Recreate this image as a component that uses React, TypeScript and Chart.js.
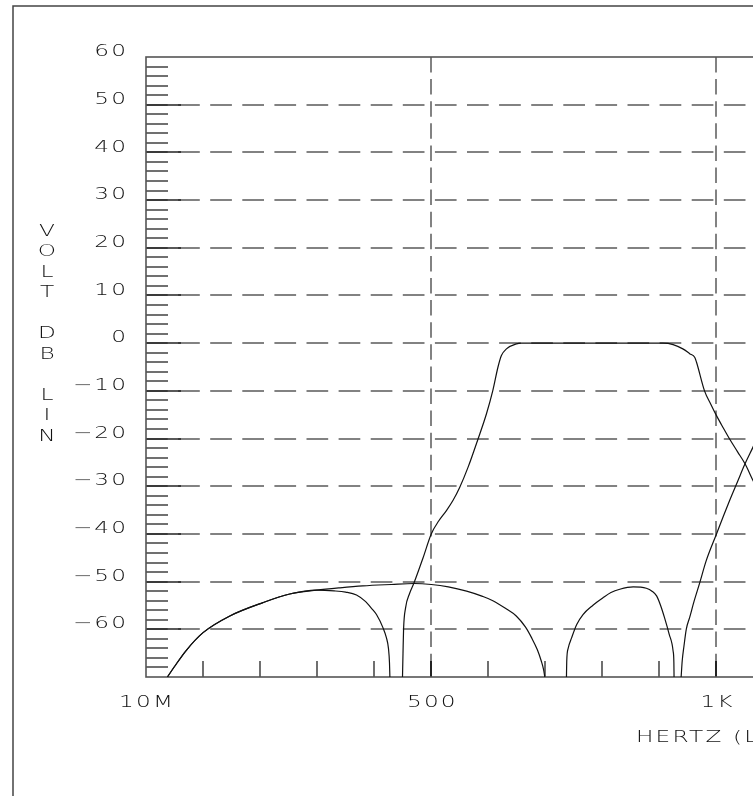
import React, { useEffect, useRef } from 'react';
import { Chart, registerables } from 'chart.js';

Chart.register(...registerables);

// ---------- data ----------
const xTickValues = [0.01, 500, 1000, 1500, 2000];
const xTickLabels = ['10M', '500', '1K', '1.5K', '2K'];
const yTickValues = [60, 50, 40, 30, 20, 10, 0, -10, -20, -30, -40, -50, -60];
const yTickLabels = ['60', '50', '40', '30', '20', '10', '0', '\u221210', '\u221220', '\u221230', '\u221240', '\u221250', '\u221260'];
const yAxisTitle = ['V', 'O', 'L', 'T', '', 'D', 'B', '', 'L', 'I', 'N'];
const xAxisTitle = 'HERTZ (LIN)';

// lower stop-band lobe (ends near 427 Hz)
const lobeAFreq = [37.5, 50, 70, 100, 147, 205, 252, 299, 330, 350, 369, 384, 396, 404, 415.5, 421.5, 425, 426.8, 427.5];
const lobeADb = [-70, -67.8, -64.5, -60.7, -57.2, -54.4, -52.6, -51.8, -51.95, -52.2, -52.8, -54.1, -55.7, -56.9, -59.7, -61.8, -64, -67, -70];

// wide stop-band lobe (ends near 699 Hz)
const lobeBFreq = [37.5, 50, 70, 100, 147, 205, 252, 299, 340, 380, 430, 470, 500, 530, 562, 590, 608, 630, 649, 665, 676, 686, 693, 697, 699];
const lobeBDb = [-70, -67.8, -64.5, -60.7, -57.2, -54.4, -52.6, -51.8, -51.3, -50.9, -50.6, -50.4, -50.6, -51.1, -52, -53.1, -54, -55.6, -57.2, -59.5, -61.8, -64.3, -66.7, -68.5, -70];

// small lobe between 737 and 926 Hz
const lobeCFreq = [737, 737.5, 740, 746, 755, 766, 783, 801, 815, 830.5, 854, 877, 887, 895, 902, 909, 917, 924, 925.3, 925.6];
const lobeCDb = [-70, -66.7, -64, -61.8, -59, -56.9, -55, -53.4, -52.3, -51.6, -51.1, -51.4, -52, -53, -55, -57.6, -61, -64.6, -67, -70];

// main pass band
const passFreq = [449.6, 450.5, 451.5, 455, 462, 470, 485.7, 500, 513, 526.6, 538, 550, 564.6, 582, 596.8, 608, 617, 623, 631.8, 649.4, 658, 906, 924, 941, 953, 962, 965, 979, 990, 1000, 1012, 1023, 1037, 1050, 1064, 1090, 1120, 1150, 1175, 1190, 1196];
const passDb = [-70, -65, -60, -55.5, -52.5, -50.2, -45, -40, -37.3, -35.1, -33, -30.2, -26, -20.1, -14.8, -9.9, -5, -2.6, -1.2, -0.15, 0, 0, -0.3, -1.2, -2.2, -3, -4, -10, -12.8, -15.2, -17.8, -20.1, -22.8, -25.3, -28.8, -35, -42, -50, -58, -65, -70];

// next channel rising
const nextFreq = [938, 940, 943, 947, 953, 961, 970.7, 982, 1000, 1012, 1023, 1037, 1050, 1064, 1090, 1120, 1150, 1180, 1220, 1500, 2000];
const nextDb = [-70, -66.5, -63.5, -60, -57.5, -54, -50.2, -45.6, -40, -36.3, -33, -29, -25.3, -21.8, -15, -8, -3, -0.5, 0, 0, 0];

const CANVAS_W = 1340;
const CANVAS_H = 796;
const FONT = '"DejaVu Sans", "Liberation Sans", sans-serif';
const TEXT = '#111';
const STRETCH = 1.45;
const SPACING = '1.5px';

const toPts = (xs: number[], ys: number[]) => xs.map((x, i) => ({ x, y: ys[i] }));

const plotterPlugin = {
  id: 'plotter',
  beforeDraw(chart: any) {
    const ctx = chart.ctx;
    if (!ctx.__wideText) {
      const orig = ctx.fillText;
      ctx.__wideText = true;
      // plotter lettering is much wider than screen fonts: stretch glyphs horizontally
      ctx.fillText = function (text: string, x: number, y: number) {
        this.save();
        this.translate(x, y);
        this.scale(STRETCH, 1);
        orig.call(this, text, 0, 0);
        this.restore();
      };
    }
    ctx.letterSpacing = SPACING;
  },
  beforeDatasetsDraw(chart: any) {
    const { ctx, chartArea: a } = chart;
    const x = chart.scales.x;
    const y = chart.scales.y;
    ctx.save();
    ctx.lineCap = 'butt';
    // dashed horizontal grid
    ctx.strokeStyle = '#5a5a5a';
    ctx.lineWidth = 1.5;
    ctx.setLineDash([21.7, 10.4]);
    for (let v = 50; v >= -60; v -= 10) {
      const py = Math.round(y.getPixelForValue(v));
      ctx.beginPath();
      ctx.moveTo(a.left, py);
      ctx.lineTo(a.right, py);
      ctx.stroke();
    }
    // dashed vertical grid
    ctx.setLineDash([15.5, 6.6]);
    for (let v = 500; v < 2000; v += 500) {
      const px = Math.round(x.getPixelForValue(v));
      ctx.beginPath();
      ctx.moveTo(px, a.top);
      ctx.lineTo(px, a.bottom);
      ctx.stroke();
    }
    ctx.setLineDash([]);
    // y tick marks (every 2 dB)
    ctx.strokeStyle = '#222';
    ctx.lineWidth = 1.3;
    for (let v = -68; v < 60; v += 2) {
      const py = Math.round(y.getPixelForValue(v));
      const len = v % 10 === 0 ? 35 : 22;
      ctx.beginPath();
      ctx.moveTo(a.left, py);
      ctx.lineTo(a.left + len, py);
      ctx.stroke();
    }
    // x tick marks (every 100 Hz)
    for (let v = 100; v < 2000; v += 100) {
      const px = Math.round(x.getPixelForValue(v));
      ctx.lineWidth = v % 500 === 0 ? 2 : 1.3;
      ctx.beginPath();
      ctx.moveTo(px, a.bottom);
      ctx.lineTo(px, a.bottom - 16);
      ctx.stroke();
    }
    // frame
    ctx.strokeStyle = '#555';
    ctx.lineWidth = 1.6;
    ctx.strokeRect(Math.round(a.left), Math.round(a.top), Math.round(a.right - a.left), Math.round(a.bottom - a.top));
    ctx.restore();
  },
  afterDraw(chart: any) {
    const { ctx } = chart;
    ctx.save();
    // outer border
    ctx.strokeStyle = '#444';
    ctx.lineWidth = 1.5;
    ctx.beginPath();
    ctx.moveTo(13, CANVAS_H + 10);
    ctx.lineTo(13, 6);
    ctx.lineTo(CANVAS_W + 10, 6);
    ctx.stroke();
    // titles
    ctx.fillStyle = TEXT;
    ctx.font = `200 16px ${FONT}`;
    ctx.textBaseline = 'middle';
    ctx.textAlign = 'center';
    ctx.letterSpacing = '0px';
    yAxisTitle.forEach((ch, i) => {
      if (ch) ctx.fillText(ch, 47, 231.7 + i * 20.5);
    });
    ctx.letterSpacing = SPACING;
    ctx.textAlign = 'left';
    ctx.fillText(xAxisTitle, 636, 738);
    ctx.restore();
  },
};

export default function App() {
  const ref = useRef<HTMLCanvasElement | null>(null);
  useEffect(() => {
    if (!ref.current) return;
    const chart = new Chart(ref.current, {
      type: 'line',
      data: {
        datasets: [
          toPts(lobeAFreq, lobeADb),
          toPts(lobeBFreq, lobeBDb),
          toPts(lobeCFreq, lobeCDb),
          toPts(passFreq, passDb),
          toPts(nextFreq, nextDb),
        ].map((data) => ({
          data,
          borderColor: '#111',
          borderWidth: 1.2,
          pointRadius: 0,
          fill: false,
          cubicInterpolationMode: 'monotone' as const,
        })),
      },
      options: {
        responsive: false,
        animation: false,
        events: [],
        layout: { padding: { left: 0, top: 57, right: CANVAS_W - 1287, bottom: 0 } },
        plugins: {
          legend: { display: false },
          tooltip: { enabled: false },
          title: { display: false },
        },
        scales: {
          x: {
            type: 'linear',
            min: 0.01,
            max: 2000,
            grid: { display: false, drawTicks: false },
            border: { display: false },
            afterBuildTicks: (s: any) => {
              s.ticks = xTickValues.map((value) => ({ value }));
            },
            afterFit: (s: any) => {
              s.height = CANVAS_H - 677;
            },
            ticks: {
              autoSkip: false,
              maxRotation: 0,
              minRotation: 0,
              padding: 16,
              labelOffset: 1.1,
              color: TEXT,
              font: { family: FONT, size: 16, weight: '200' },
              callback: (v: any) => {
                const i = xTickValues.indexOf(Number(v));
                return i >= 0 ? xTickLabels[i] : '';
              },
            },
          },
          y: {
            type: 'linear',
            min: -70,
            max: 60,
            grid: { display: false, drawTicks: false },
            border: { display: false },
            afterBuildTicks: (s: any) => {
              s.ticks = yTickValues.map((value) => ({ value }));
            },
            afterFit: (s: any) => {
              s.width = 146;
            },
            ticks: {
              autoSkip: false,
              padding: 17.8,
              labelOffset: -5,
              color: TEXT,
              font: { family: FONT, size: 16, weight: '200' },
              callback: (v: any) => {
                const i = yTickValues.indexOf(Number(v));
                return i >= 0 ? yTickLabels[i] : '';
              },
            },
          },
        },
      },
      plugins: [plotterPlugin],
    });
    return () => chart.destroy();
  }, []);

  return (
    <div
      style={{
        position: 'fixed',
        left: 0,
        top: 0,
        width: 753,
        height: 796,
        overflow: 'hidden',
        background: '#fff',
      }}
    >
      <canvas ref={ref} width={CANVAS_W} height={CANVAS_H} style={{ display: 'block', width: CANVAS_W, height: CANVAS_H }} />
    </div>
  );
}
